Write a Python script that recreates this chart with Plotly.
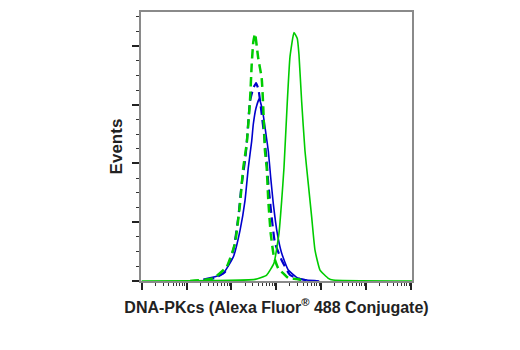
import plotly.graph_objects as go

# Fluorescence intensity (x) and event counts (y)
green_solid_x = [1, 334, 608, 884, 1142, 1312, 1477, 1750, 2010, 2466, 2918, 3184, 3656, 4335, 5129, 6109, 7244, 9354, 14330, 18230, 1.05e6]
green_solid_y = [0, 1.4, 5.1, 15.2, 40.5, 68.4, 96.5, 152.5, 190.9, 211.4, 206.3, 192.6, 152.5, 110.6, 82.8, 54.3, 26.2, 9.3, 2.3, 0.8, 0]

blue_solid_x = [23.5, 43, 65.7, 110, 155, 200, 237, 282, 306, 352, 416, 495, 586, 661, 747, 853, 1047, 1312, 1841, 2831, 4732, 9000]
blue_solid_y = [1.4, 3.6, 6.5, 20.5, 43.1, 68.4, 96.5, 119.1, 133.4, 147.2, 155.2, 144.4, 125, 110.6, 88.1, 65.9, 40.5, 23.6, 9.3, 3.1, 0.8, 0]

blue_dash_x = [25.7, 43, 71.6, 110, 142, 169, 200, 218, 258, 306, 352, 399, 471, 530, 608, 661, 785, 931, 1312, 2010, 3357, 5623]
blue_dash_y = [0.8, 2.5, 7.6, 26.2, 54.3, 82.8, 102.2, 116.6, 152.9, 164.1, 168.3, 163, 141.9, 125, 102.2, 82.8, 54.3, 32.1, 17.7, 5.1, 1.7, 0]

green_dash_x = [11.9, 39.3, 78.2, 120, 155, 183, 218, 258, 282, 306, 334, 395, 471, 511, 557, 608, 661, 747, 884, 1102, 1426, 1841, 2831, 4335]
green_dash_y = [0, 2.3, 12.1, 32.1, 65.9, 96.5, 116.6, 152.9, 184.1, 203.5, 210.5, 189.4, 172.5, 147.2, 110.6, 96.5, 68.4, 40.5, 20.5, 10.7, 6.5, 2.5, 1.7, 0]

x_major = [1, 10, 100, 1000, 10000, 100000, 1000000]
x_minor = [m * d for d in [1, 10, 100, 1000, 10000, 100000] for m in range(2, 10)]

GREEN = "#00CC00"
BLUE = "#0000CC"

fig = go.Figure()
fig.add_trace(go.Scatter(x=blue_solid_x, y=blue_solid_y, mode="lines",
                         line=dict(color=BLUE, width=1.6, shape="spline", smoothing=0.4)))
fig.add_trace(go.Scatter(x=blue_dash_x, y=blue_dash_y, mode="lines",
                         line=dict(color=BLUE, width=2.2, dash="9px,5px", shape="spline", smoothing=0.4)))
fig.add_trace(go.Scatter(x=green_dash_x, y=green_dash_y, mode="lines",
                         line=dict(color=GREEN, width=2.5, dash="9px,5px", shape="spline", smoothing=0.4)))
fig.add_trace(go.Scatter(x=green_solid_x, y=green_solid_y, mode="lines",
                         line=dict(color=GREEN, width=1.6, shape="spline", smoothing=0.4)))

font_fam = "Liberation Sans Narrow, Arial Narrow, Liberation Sans, Arial"

fig.update_layout(
    width=520, height=350,
    margin=dict(l=141, r=108, t=10, b=69),
    paper_bgcolor="white", plot_bgcolor="white",
    showlegend=False,
    xaxis=dict(
        type="log", range=[-0.015, 6.02],
        showgrid=False, zeroline=False,
        showline=True, linecolor="#8a8a8a", linewidth=1.5, mirror=True,
        tickmode="array", tickvals=x_major, showticklabels=False,
        ticks="outside", ticklen=7, tickwidth=1.5, tickcolor="#222",
        minor=dict(tickmode="array", tickvals=x_minor, ticks="outside", ticklen=3, tickwidth=1, tickcolor="#333", showgrid=False),
        title=dict(text="<b>DNA-PKcs (Alexa Fluor<sup>®</sup> 488 Conjugate)</b>",
                   font=dict(family=font_fam, size=16, color="#222"), standoff=13),
    ),
    yaxis=dict(
        range=[0, 228.9],
        showgrid=False, zeroline=False,
        showline=True, linecolor="#8a8a8a", linewidth=1.5, mirror=True,
        tickmode="linear", tick0=0, dtick=50, showticklabels=False,
        ticks="outside", ticklen=7, tickwidth=1.5, tickcolor="#222",
        minor=dict(tickmode="linear", dtick=12.5, ticks="outside", ticklen=3, tickwidth=1, tickcolor="#333", showgrid=False),
        title=dict(text="<b>Events</b>", font=dict(family=font_fam, size=17, color="#222"), standoff=5),
    ),
)

fig.write_html("out.html")
